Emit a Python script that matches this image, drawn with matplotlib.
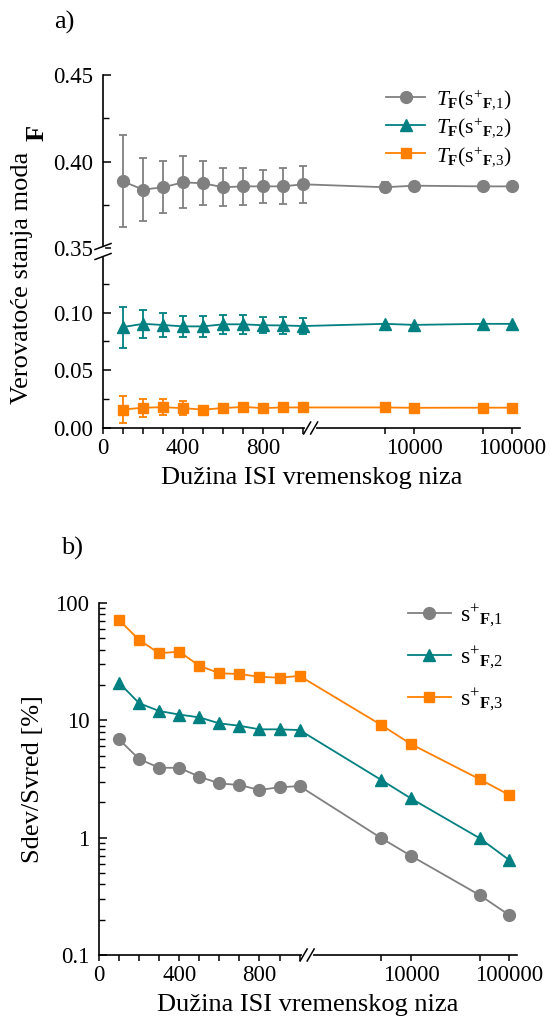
import numpy as np
import matplotlib
matplotlib.use("Agg")
import matplotlib.pyplot as plt
from matplotlib.ticker import FixedLocator, FixedFormatter, LogLocator, FuncFormatter, NullFormatter

plt.rcParams['font.family'] = ['Liberation Serif', 'DejaVu Serif']
plt.rcParams['mathtext.fontset'] = 'custom'
plt.rcParams['mathtext.rm'] = 'Liberation Serif'
plt.rcParams['mathtext.it'] = 'Liberation Serif:italic'
plt.rcParams['mathtext.bf'] = 'Liberation Serif:bold'

# ISI series lengths
isi_len = [100, 200, 300, 400, 500, 600, 700, 800, 900, 1000, 5000, 10000, 50000, 100000]

# a) mode probabilities (mean and std)
prob_s1 = [0.3886, 0.3838, 0.3852, 0.3880, 0.3875, 0.3852, 0.3857, 0.3857, 0.3857, 0.3869,
           0.3852, 0.3861, 0.3857, 0.3857]
prob_s1_err = [0.0265, 0.0180, 0.0150, 0.0150, 0.0128, 0.0110, 0.0105, 0.0097, 0.0104, 0.0106,
               0.0030, 0.0, 0.0, 0.0]
prob_s2 = [0.0874, 0.0902, 0.0892, 0.0880, 0.0880, 0.0898, 0.0898, 0.0890, 0.0888, 0.0883,
           0.0902, 0.0893, 0.0902, 0.0902]
prob_s2_err = [0.0178, 0.0121, 0.0106, 0.0094, 0.0088, 0.0083, 0.0083, 0.0068, 0.0073, 0.0073,
               0.0, 0.0, 0.0, 0.0]
prob_s3 = [0.0160, 0.0176, 0.0180, 0.0172, 0.0159, 0.0173, 0.0182, 0.0173, 0.0178, 0.0178,
           0.0178, 0.0175, 0.0176, 0.0176]
prob_s3_err = [0.0113, 0.0079, 0.0068, 0.0063, 0.0030, 0.0020, 0.0020, 0.0020, 0.0020, 0.0020,
               0.0, 0.0, 0.0, 0.0]

# b) relative deviation Sdev/Svred in %
rel_s1 = [6.88, 4.68, 3.94, 3.94, 3.31, 2.90, 2.81, 2.55, 2.69, 2.75, 0.99, 0.70, 0.324, 0.219]
rel_s2 = [20.9, 14.0, 12.0, 11.2, 10.6, 9.42, 8.99, 8.38, 8.38, 8.26, 3.10, 2.16, 0.99, 0.645]
rel_s3 = [71.7, 48.4, 37.3, 38.5, 29.2, 25.2, 24.8, 23.5, 23.1, 23.9, 9.12, 6.28, 3.15, 2.31]

labels_a = [r'$T_{\mathbf{F}}(\mathrm{s}^{+}{}_{\mathbf{F}{,}1})$',
            r'$T_{\mathbf{F}}(\mathrm{s}^{+}{}_{\mathbf{F}{,}2})$',
            r'$T_{\mathbf{F}}(\mathrm{s}^{+}{}_{\mathbf{F}{,}3})$']
labels_b = [r'$\mathrm{s}^{+}{}_{\mathbf{F}{,}1}$',
            r'$\mathrm{s}^{+}{}_{\mathbf{F}{,}2}$',
            r'$\mathrm{s}^{+}{}_{\mathbf{F}{,}3}$']

GRAY, TEAL, ORANGE = '#808080', '#008080', '#ff8000'
styles = [(GRAY, 'o', 8.5), (TEAL, '^', 9), (ORANGE, 's', 7.5)]

W, H, DPI = 558, 1029, 100

# broken x axis: linear up to 1000, short bridge, then log10 from 1050
LIN_PX, DEC_PX, POS_1E4 = 0.2, 98.0, 311.0
X_LIN_END, X_LOG_START = 1000.0, 1050.0
U_A = X_LIN_END * LIN_PX
U_B = POS_1E4 + (np.log10(X_LOG_START) - 4) * DEC_PX


def fwd_x(x):
    x = np.asarray(x, dtype=float)
    lin = x * LIN_PX
    bridge = U_A + (x - X_LIN_END) / (X_LOG_START - X_LIN_END) * (U_B - U_A)
    logp = POS_1E4 + (np.log10(np.maximum(x, X_LOG_START)) - 4) * DEC_PX
    return np.where(x <= X_LIN_END, lin, np.where(x < X_LOG_START, bridge, logp))


def inv_x(u):
    u = np.asarray(u, dtype=float)
    lin = u / LIN_PX
    bridge = X_LIN_END + (u - U_A) / (U_B - U_A) * (X_LOG_START - X_LIN_END)
    logp = 10 ** (4 + (np.clip(u, U_B, 2000) - POS_1E4) / DEC_PX)
    return np.where(u <= U_A, lin, np.where(u < U_B, bridge, logp))


# broken y axis for a): 0..0.15 and 0.35..0.45 (upper part stretched 1.5x)
Y_PTS = [-1.0, 0.0, 0.15, 0.35, 0.45, 2.0]
Y_U = [-1.0, 0.0, 0.15, 0.1557, 0.3057, 0.3057 + 1.55 * 1.5]


def fwd_y(y):
    return np.interp(y, Y_PTS, Y_U)


def inv_y(u):
    return np.interp(u, Y_U, Y_PTS)


def setup_xaxis(ax):
    ax.set_xscale('function', functions=(fwd_x, inv_x))
    ax.set_xlim(0, 120000)
    ax.xaxis.set_major_locator(FixedLocator([0, 400, 800, 10000, 100000]))
    ax.xaxis.set_major_formatter(FixedFormatter(['0', '400', '800', '10000', '100000']))
    ax.xaxis.set_minor_locator(FixedLocator([100, 200, 300, 500, 600, 700, 900, 1000, 5000, 50000]))
    ax.xaxis.set_minor_formatter(NullFormatter())
    ax.tick_params(axis='x', which='both', direction='out', length=4, width=1.1,
                   labelsize=16.5, pad=3)
    ax.tick_params(axis='y', which='major', direction='in', length=6, width=1.1,
                   labelsize=16.5, pad=7)
    ax.tick_params(axis='y', which='minor', direction='in', length=4, width=1.0)
    for side in ('top', 'right'):
        ax.spines[side].set_visible(False)
    for side in ('left', 'bottom'):
        ax.spines[side].set_linewidth(1.2)


def ax_frac_x(ax, x):
    lo, hi = fwd_x(0), fwd_x(120000)
    return float((fwd_x(x) - lo) / (hi - lo))


def draw_x_break(ax, x_mid):
    pos = ax.get_position()
    wpx, hpx = pos.width * W, pos.height * H
    xa = ax_frac_x(ax, x_mid)
    kw = dict(transform=ax.transAxes, clip_on=False)
    ax.plot([xa - 3.5 / wpx, xa + 3.5 / wpx], [0, 0], color='white', lw=3, zorder=5, **kw)
    for off in (-3.5, 3.5):
        ax.plot([xa + (off - 3.5) / wpx, xa + (off + 3.5) / wpx],
                [-6 / hpx, 6 / hpx], color='black', lw=1.1, zorder=6, **kw)


def draw_y_break(ax, y_mid):
    pos = ax.get_position()
    wpx, hpx = pos.width * W, pos.height * H
    lo, hi = fwd_y(0), fwd_y(0.45)
    ya = float((fwd_y(y_mid) - lo) / (hi - lo))
    kw = dict(transform=ax.transAxes, clip_on=False)
    ax.plot([0, 0], [ya - 3 / hpx, ya + 3 / hpx], color='white', lw=3, zorder=5, **kw)
    for off in (-5, 5):
        ax.plot([-8 / wpx, 8 / wpx], [ya + (off - 3) / hpx, ya + (off + 3) / hpx],
                color='black', lw=1.1, zorder=6, **kw)


fig = plt.figure(figsize=(W / DPI, H / DPI), dpi=DPI)

# ---------------- panel a ----------------
ax_a = fig.add_axes([103 / W, 1 - 428 / H, 417 / W, 353 / H])
setup_xaxis(ax_a)
ax_a.set_yscale('function', functions=(fwd_y, inv_y))
ax_a.set_ylim(0, 0.45)
ax_a.yaxis.set_major_locator(FixedLocator([0.0, 0.05, 0.10, 0.35, 0.40, 0.45]))
ax_a.yaxis.set_major_formatter(FuncFormatter(lambda v, p: f'{v:.2f}'))
ax_a.yaxis.set_minor_locator(FixedLocator([0.025, 0.075, 0.125, 0.375, 0.425]))
ax_a.yaxis.set_minor_formatter(NullFormatter())

for (c, m, ms), y, e, lab in zip(styles, [prob_s1, prob_s2, prob_s3],
                                 [prob_s1_err, prob_s2_err, prob_s3_err], labels_a):
    ax_a.errorbar(isi_len, y, yerr=e, fmt='none', ecolor=c, elinewidth=1.3,
                  capsize=3, capthick=1.3, zorder=2)
    ax_a.plot(isi_len, y, color=c, lw=1.3, marker=m, ms=ms, mec=c, mfc=c, zorder=3, label=lab)

ax_a.legend(loc='upper right', bbox_to_anchor=(1.0, 0.99), frameon=False, fontsize=15.5,
            handlelength=1.8, handletextpad=0.5, labelspacing=0.2, borderaxespad=0)
ax_a.set_xlabel('Dužina ISI vremenskog niza', fontsize=19, labelpad=6)
draw_x_break(ax_a, 1025)
draw_y_break(ax_a, 0.25)

fig.text(22 / W, 1 - 278 / H, 'Verovatoće stanja moda', rotation=90, fontsize=19,
         ha='center', va='center')
fig.text(37 / W, 1 - 133 / H, 'F', rotation=90, fontsize=19, fontweight='bold',
         ha='center', va='center')
fig.text(64 / W, 1 - 22 / H, 'a)', fontsize=19, ha='center', va='center')

# ---------------- panel b ----------------
ax_b = fig.add_axes([99 / W, 1 - 955 / H, 418 / W, 352 / H])
setup_xaxis(ax_b)
ax_b.set_yscale('log')
ax_b.set_ylim(0.1, 100)
ax_b.yaxis.set_major_locator(LogLocator(base=10))
ax_b.yaxis.set_major_formatter(FuncFormatter(lambda v, p: f'{v:g}'))
ax_b.yaxis.set_minor_locator(LogLocator(base=10, subs=np.arange(2, 10)))
ax_b.yaxis.set_minor_formatter(NullFormatter())

for (c, m, ms), y, lab in zip(styles, [rel_s1, rel_s2, rel_s3], labels_b):
    ax_b.plot(isi_len, y, color=c, lw=1.3, marker=m, ms=ms, mec=c, mfc=c, zorder=3, label=lab)

ax_b.legend(loc='upper right', bbox_to_anchor=(0.99, 1.03), frameon=False, fontsize=17,
            handlelength=1.8, handletextpad=0.4, labelspacing=0.65, borderaxespad=0)
ax_b.set_xlabel('Dužina ISI vremenskog niza', fontsize=19, labelpad=6)
ax_b.set_ylabel('Sdev/Svred [%]', fontsize=19, labelpad=8)
draw_x_break(ax_b, 1025)

fig.text(72 / W, 1 - 548 / H, 'b)', fontsize=19, ha='center', va='center')

fig.savefig('out.png', dpi=DPI)
